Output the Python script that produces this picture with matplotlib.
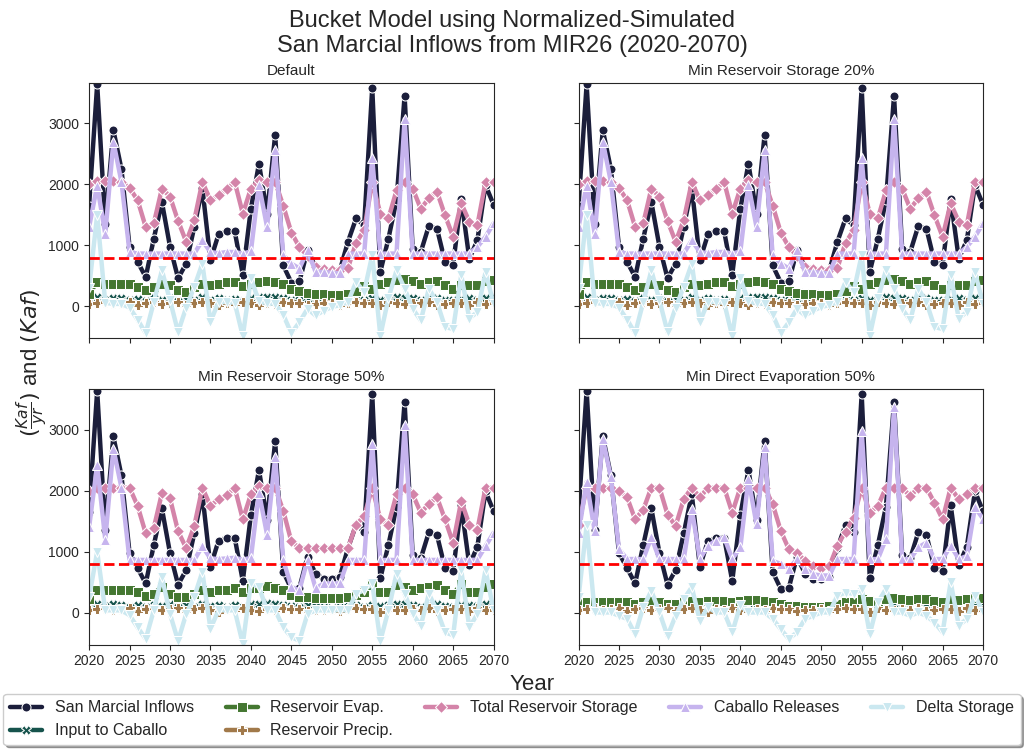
import matplotlib
matplotlib.use("Agg")
import matplotlib.pyplot as plt
import seaborn as sns

years = list(range(2020, 2071))

# San Marcial inflows (same in every scenario)
inflow = [1650, 3640, 1350, 2890, 2250, 980, 730, 480, 1110, 1710,
          980, 460, 700, 1300, 1940, 755, 1180, 1230, 1230, 520,
          1600, 2340, 1520, 2810, 670, 390, 410, 920, 640, 560,
          560, 590, 1060, 1440, 1330, 3585, 565, 1110, 1740, 3450,
          945, 890, 1320, 1275, 730, 685, 1765, 780, 1085, 1990, 1665]

input_caballo = [120, 150, 110, 140, 130, 100, 120, 90, 130, 110,
                 140, 90, 120, 100, 150, 110, 130, 100, 120, 90,
                 140, 150, 160, 150, 130, 110, 100, 120, 110, 100,
                 90, 100, 110, 120, 100, 130, 110, 120, 150, 140,
                 130, 100, 130, 140, 110, 100, 120, 130, 110, 140, 150]

precip = [40, 60, 70, 50, 60, 70, 30, 60, 70, 40,
          60, 70, 30, 60, 70, 50, 20, 60, 40, 70,
          50, 30, 60, 40, 70, 60, 60, 30, 40, 50,
          60, 30, 60, 70, 60, 60, 20, 70, 50, 40,
          60, 50, 70, 30, 40, 60, 60, 30, 70, 40, 50]

# Default
evap_def = [200, 400, 370, 370, 370, 370, 320, 260, 320, 370,
            345, 260, 235, 320, 370, 355, 370, 400, 400, 335,
            370, 400, 415, 400, 370, 290, 245, 220, 210, 200,
            190, 190, 210, 245, 335, 290, 370, 400, 425, 455,
            410, 370, 400, 410, 355, 290, 345, 345, 355, 410, 425]
storage_def = [2000, 2050, 2050, 2050, 2040, 1940, 1740, 1300, 1360, 1930,
               1800, 1400, 1060, 1410, 2040, 1740, 1820, 1920, 2040, 1520,
               1930, 2070, 2040, 2040, 1650, 1210, 970, 830, 650, 620,
               600, 600, 630, 1040, 1250, 2040, 1520, 1440, 1900, 2040,
               1930, 1600, 1770, 1880, 1490, 1140, 1690, 1390, 1330, 2040, 2040]
releases_def = [1300, 1980, 1190, 2700, 2040, 890, 865, 865, 865, 865,
                865, 865, 865, 865, 1080, 890, 870, 890, 890, 865,
                900, 1990, 1300, 2560, 840, 700, 620, 920, 565, 565,
                550, 540, 865, 865, 865, 2425, 865, 865, 865, 3070,
                865, 865, 865, 865, 865, 865, 865, 865, 975, 1140, 1360]
delta_def = [300, 1500, 60, 40, 40, -20, -220, -440, 70, 590,
             100, -420, -20, 320, 700, -250, 70, 70, 60, -490,
             460, 80, 50, 40, -140, -440, -260, -40, -150, -70,
             -10, 20, 70, 400, 240, 840, -480, 130, 590, 290,
             -40, -230, 290, 70, -340, -370, 510, -200, -90, 560, 40]

# Min reservoir storage 50%
evap_50 = [220, 370, 370, 370, 380, 370, 340, 270, 315, 425,
           315, 250, 250, 315, 370, 345, 370, 380, 400, 345,
           400, 410, 435, 410, 370, 290, 260, 250, 240, 240,
           240, 240, 250, 290, 345, 450, 340, 340, 450, 425,
           370, 400, 425, 450, 370, 310, 465, 340, 340, 425, 470]
storage_50 = [2000, 2050, 2050, 2050, 2050, 2050, 1750, 1300, 1390, 1960,
              1875, 1335, 1060, 1420, 2050, 1750, 1860, 1925, 2050, 1530,
              1940, 2080, 2050, 2050, 1670, 1170, 1060, 1060, 1060, 1060,
              1060, 1060, 1060, 1445, 1580, 2050, 1530, 1445, 1940, 2050,
              1940, 1640, 1780, 1890, 1530, 1140, 1830, 1445, 1360, 2050, 2050]
releases_50 = [1400, 2420, 1200, 2690, 2050, 870, 865, 865, 865, 865,
               865, 865, 865, 865, 1090, 890, 880, 890, 900, 870,
               900, 1970, 1280, 2550, 865, 420, 370, 870, 400, 480,
               480, 480, 865, 865, 865, 2770, 865, 865, 865, 3070,
               865, 865, 865, 865, 865, 865, 865, 865, 870, 1090, 1310]
delta_50 = [250, 1000, 40, 40, 40, -40, -240, -430, 40, 590,
            -20, -460, -20, 260, 670, -260, 40, 40, 40, -510,
            480, 420, 40, 40, -240, -400, -460, -20, 40, 40,
            40, 40, 40, 310, 370, 480, -460, 40, 640, 310,
            -20, -210, 310, 40, -320, -370, 700, -240, -20, 700, 40]

# Min direct evaporation 50%
evap_ev = [180, 170, 170, 170, 170, 170, 170, 140, 170, 200,
           170, 140, 140, 170, 200, 180, 200, 200, 200, 170,
           200, 210, 210, 200, 170, 140, 115, 115, 100, 100,
           100, 115, 140, 170, 180, 225, 200, 200, 225, 235,
           225, 210, 225, 225, 200, 170, 225, 210, 225, 235, 235]
storage_ev = [1440, 2050, 2050, 2050, 2050, 2000, 1890, 1530, 1690, 2050,
              2050, 1610, 1420, 1860, 2050, 1890, 2050, 2050, 2050, 1640,
              2050, 2050, 2050, 2050, 1780, 1340, 1040, 980, 850, 770,
              740, 760, 1100, 1330, 1560, 2050, 1640, 1750, 2050, 2050,
              2050, 1910, 2050, 2050, 1800, 1530, 2050, 1860, 1940, 2050, 2050]
releases_ev = [1300, 2140, 1340, 2850, 2220, 1040, 880, 880, 880, 1235,
               880, 880, 880, 880, 1700, 880, 1100, 1180, 1235, 880,
               1070, 2190, 1450, 2710, 850, 800, 720, 880, 720, 630,
               610, 610, 880, 880, 880, 2980, 880, 880, 1210, 3370,
               880, 880, 1070, 1150, 880, 880, 1100, 880, 930, 1730, 1540]
delta_ev = [250, 1430, 5, 5, 5, -50, -100, -350, 90, 360,
            5, -380, -50, 220, 420, -130, 90, 5, 5, -320,
            120, 5, 5, 5, -100, -270, -430, -320, -100, -50,
            5, 5, 280, 330, 310, 390, -350, 170, 390, 5,
            5, -50, 5, -50, -160, -320, 500, -210, -100, 280, 5]

labels = ["San Marcial Inflows", "Input to Caballo", "Reservoir Evap.",
          "Reservoir Precip.", "Total Reservoir Storage", "Caballo Releases",
          "Delta Storage"]
markers = ["o", "X", "s", "P", "D", "^", "v"]

scenarios = [
    ("Default", evap_def, storage_def, releases_def, delta_def),
    ("Min Reservoir Storage 20%", evap_def, storage_def, releases_def, delta_def),
    ("Min Reservoir Storage 50%", evap_50, storage_50, releases_50, delta_50),
    ("Min Direct Evaporation 50%", evap_ev, storage_ev, releases_ev, delta_ev),
]
min_release = 800

sns.set_style("ticks")
plt.rcParams["font.family"] = ["Liberation Sans", "DejaVu Sans"]
colors = sns.color_palette("cubehelix", 7)

fig, axs = plt.subplots(2, 2, figsize=(10.24, 7.55), dpi=100, sharex=True, sharey=True)
fig.subplots_adjust(left=0.087, right=0.96, top=0.89, bottom=0.146, wspace=0.21, hspace=0.2)

for ax, (title, evap, storage, releases, delta) in zip(axs.flat, scenarios):
    series = [inflow, input_caballo, evap, precip, storage, releases, delta]
    for s, lab, m, c in zip(series, labels, markers, colors):
        ax.plot(years, s, color=c, marker=m, lw=3.2, ms=6.5, mec="w", mew=0.75, label=lab)
    ax.axhline(min_release, color="red", ls="--", lw=2)
    ax.set_title(title, fontsize=11)
    ax.tick_params(labelsize=10)

axs[0, 0].set_xlim(2020, 2070)
axs[0, 0].set_ylim(-525, 3660)
axs[0, 0].set_xticks(range(2020, 2071, 5))
axs[0, 0].set_yticks([0, 1000, 2000, 3000])

fig.suptitle("Bucket Model using Normalized-Simulated\nSan Marcial Inflows from MIR26 (2020-2070)",
             fontsize=17, y=0.987)
fig.text(0.52, 0.093, "Year", ha="center", va="center", fontsize=16)
fig.text(0.032, 0.52, r"$(\frac{Kaf}{yr})$ and $(Kaf)$", rotation=90,
         ha="center", va="center", fontsize=16)

handles, labs = axs[0, 0].get_legend_handles_labels()
fig.legend(handles[:7], labs[:7], loc="lower center", bbox_to_anchor=(0.5, 0.003),
           ncol=5, fontsize=11.5, shadow=True)

fig.savefig("out.png", dpi=100)
